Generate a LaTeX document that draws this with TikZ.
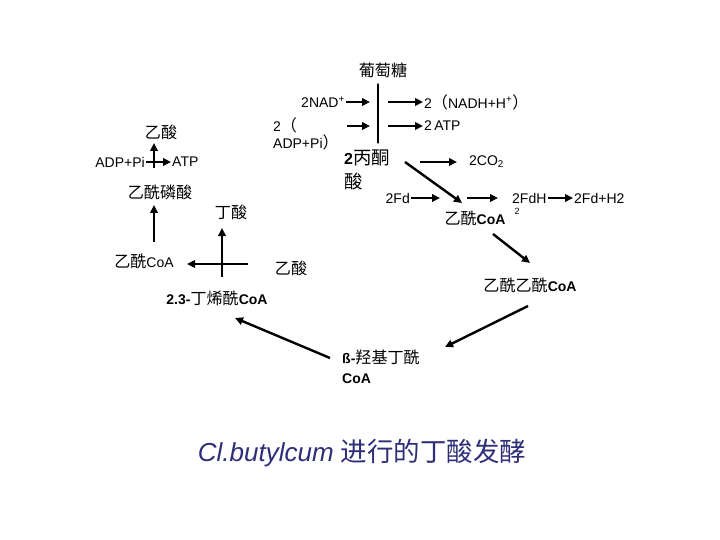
\documentclass[tikz,border=0pt]{standalone}
\usepackage{fontspec}
\setmainfont{Liberation Sans}
\newfontfamily\cjk{Noto Sans CJK SC}[Scale=1.15]
\usetikzlibrary{arrows.meta}
\newcommand{\zh}[1]{{\cjk #1}}
\definecolor{captblue}{RGB}{46,46,120}

\begin{document}
\begin{tikzpicture}[x=1pt,y=-1pt,line cap=round,
  lab/.style={inner sep=1pt,font=\fontsize{14}{17}\selectfont},
  flow/.style={line width=2.4pt,line cap=butt,-{Triangle[length=8pt,width=7.5pt]}},
]
\useasboundingbox (0,0) rectangle (720,540);

% 葡萄糖 -> 丙酮酸
\node[lab] (glc) at (383,70) {\zh{葡萄糖}};
\coordinate (gtop) at (378,84);
\coordinate (gbot) at (378,143);
\draw[line width=1.3pt] (gtop) -- (gbot);

\node[lab,anchor=east] (nad) at (346,102) {2NAD\textsuperscript{+}};
\node[lab,anchor=west] (nadh) at (423,102) {2\zh{（}NADH+H\textsuperscript{+}\zh{）}};
\coordinate (nadin) at (370,102);
\coordinate (nadout) at (388,102);
\draw[flow] (nad.east) -- (nadin);
\draw[flow] (nadout) -- (nadh.west);

\node[lab,anchor=west,align=left] (adp) at (272,134) {2\zh{（}\\ADP+Pi\zh{）}};
\node[lab,anchor=west] (atp) at (423,126) {2\,ATP};
\coordinate (adpst) at (347,126);
\coordinate (adpin) at (370,126);
\coordinate (atpst) at (388,126);
\draw[flow] (adpst) -- (adpin);
\draw[flow] (atpst) -- (atp.west);

% 丙酮酸 -> 乙酰CoA
\node[lab,anchor=west,align=left,font=\fontsize{16}{24}\selectfont] (pyr) at (343,170) {\textbf{2}\zh{丙酮}\\\zh{酸}};
\node[lab,anchor=west] (co2) at (468,162) {2CO\textsubscript{2}};
\coordinate (co2st) at (420,162);
\coordinate (co2tip) at (457,162);
\draw[flow] (co2st) -- (co2tip);

\node[lab,anchor=east] (fd) at (411,198) {2Fd};
\node[lab,anchor=west] (fdh) at (511,198) {2FdH};
\node[lab,anchor=west] (h2) at (573,198) {2Fd+H2};
\coordinate (fdtip) at (440,198);
\coordinate (fdhst) at (467,198);
\coordinate (fdhtip) at (498,198);
\draw[flow] (fd.east) -- (fdtip);
\draw[flow] (fdhst) -- (fdhtip);
\draw[flow] (fdh.east) -- (h2.west);

\node[lab] (acoa) at (475,218) {\zh{乙酰}\textbf{CoA}};
\node[lab,font=\fontsize{9}{10}\selectfont] (sup) at (517,211) {2};
\coordinate (pyrout) at (405,162);
\coordinate (acin) at (462,203);
\draw[flow] (pyrout) -- (acin);

% 乙酰CoA -> 乙酰乙酰CoA -> ß-羟基丁酰CoA -> 2.3-丁烯酰CoA
\node[lab] (aacoa) at (530,285) {\zh{乙酰乙酰}\textbf{CoA}};
\node[lab,anchor=west,align=left,font=\fontsize{14}{20}\selectfont] (hb) at (341,367) {\textbf{ß-}\zh{羟基丁酰}\\\textbf{CoA}};
\node[lab] (cr) at (217,298) {\textbf{2.3-}\zh{丁烯酰}\textbf{CoA}};
\coordinate (acout) at (493,234);
\coordinate (aain) at (530,263);
\coordinate (aaout) at (528,306);
\coordinate (hbin) at (445,347);
\coordinate (hbout) at (330,358);
\coordinate (crin) at (235,318);
\draw[flow] (acout) -- (aain);
\draw[flow] (aaout) -- (hbin);
\draw[flow] (hbout) -- (crin);

% 丁酰CoA + 乙酸 -> 丁酸 + 乙酰CoA
\node[lab] (but) at (231,212) {\zh{丁酸}};
\node[lab] (ac2) at (291,268) {\zh{乙酸}};
\node[lab] (acoa2) at (144,261) {\zh{乙酰}CoA};
\coordinate (x2b) at (222,277);
\coordinate (x2t) at (222,228);
\coordinate (x2r) at (248,264);
\coordinate (x2l) at (187,264);
\draw[flow] (x2b) -- (x2t);
\draw[flow] (x2r) -- (x2l);

% 乙酰CoA -> 乙酰磷酸 -> 乙酸
\node[lab] (acp) at (160,192) {\zh{乙酰磷酸}};
\node[lab] (ac1) at (161,132) {\zh{乙酸}};
\node[lab,anchor=east] (adp2) at (146,162) {ADP+Pi};
\node[lab,anchor=west] (atp2) at (171,162) {ATP};
\coordinate (a2up) at (154,242);
\coordinate (a2tip) at (154,205);
\coordinate (x1b) at (154,168);
\coordinate (x1t) at (154,143);
\draw[flow] (a2up) -- (a2tip);
\draw[flow] (x1b) -- (x1t);
\draw[flow] (adp2.east) -- (atp2.west);

% 标题
\node[font=\fontsize{26}{30}\selectfont,text=captblue] (cap) at (362,453)
  {\textit{Cl.butylcum} {\fontsize{23}{30}\selectfont\zh{进行的丁酸发酵}}};

\end{tikzpicture}
\end{document}
